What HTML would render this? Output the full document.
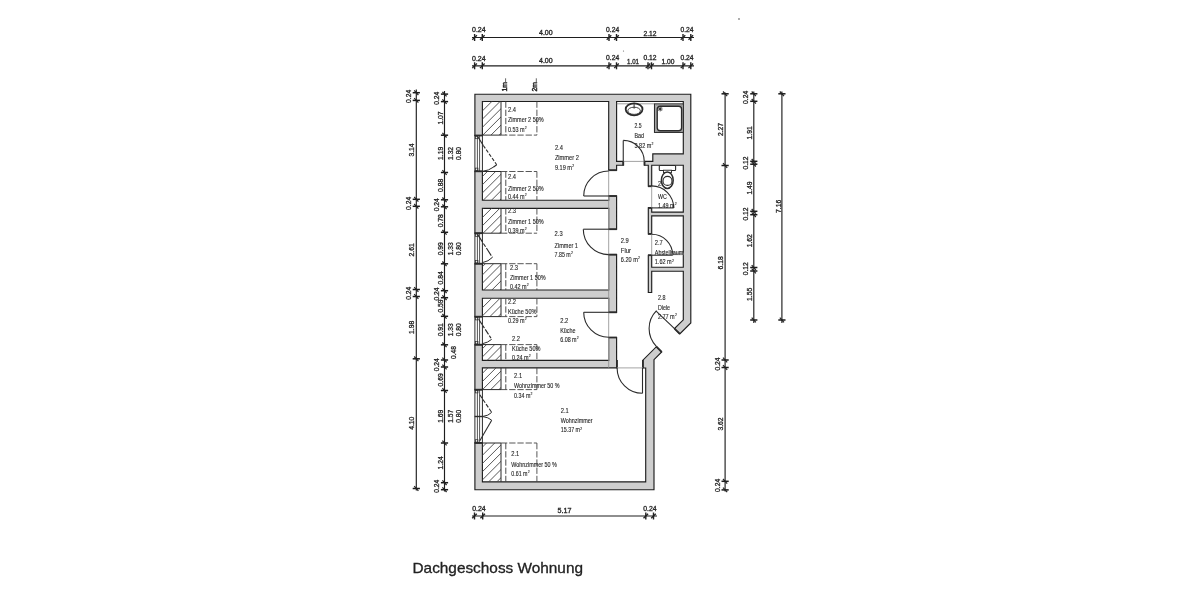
<!DOCTYPE html>
<html><head><meta charset="utf-8"><style>
html,body{margin:0;padding:0;background:#fff;width:1200px;height:600px;overflow:hidden}
svg{display:block;filter:blur(0.35px)}
text{font-family:"Liberation Sans",sans-serif}
</style></head><body>
<svg width="1200" height="600" viewBox="0 0 1200 600">
<rect width="1200" height="600" fill="#fff"/>
<path d="M474.9 94.2L474.9 101.5L474.9 135.5L482.4 135.5L482.4 101.5L608.7 101.5L608.7 170.2L616.6 170.2L616.6 165.2L623.25 165.2L623.25 161.4L616.6 161.4L616.6 101.5L683.3 101.5L683.3 153.9L652.8 153.9L652.8 161.4L651.7 161.4L648.3 161.4L644.5 161.4L644.5 165.2L648.3 165.2L648.3 186.25L651.7 186.25L651.7 165.2L652.8 165.2L683.3 165.2L683.3 212.1L651.7 212.1L651.7 207.9L648.3 207.9L648.3 233.9L651.7 233.9L651.7 215.8L683.3 215.8L683.3 267.2L651.7 267.2L651.7 255.2L648.3 255.2L648.3 292.5L651.7 292.5L651.7 271.2L683.3 271.2L683.3 319.8L674.5 328.6L679.8 333.9L690.8 322.9L690.8 101.5L690.8 94.2L683.3 94.2L616.6 94.2L608.7 94.2L482.4 94.2ZM608.7 208.3L608.7 229.2L616.6 229.2L616.6 208.3L616.6 200.2L616.6 196L608.7 196L608.7 200.2L482.4 200.2L482.4 171.3L474.9 171.3L474.9 233.2L482.4 233.2L482.4 208.3ZM616.6 290L616.6 254.6L608.7 254.6L608.7 290L482.4 290L482.4 263.7L474.9 263.7L474.9 316.7L482.4 316.7L482.4 298.2L608.7 298.2L608.7 312.3L616.6 312.3L616.6 298.2ZM616.6 337.5L608.7 337.5L608.7 360.4L482.4 360.4L482.4 344.7L474.9 344.7L474.9 389.7L482.4 389.7L482.4 367.9L608.7 367.9L616.6 367.9L616.6 360.4ZM474.9 442.9L474.9 481.8L474.9 489.7L482.4 489.7L645.7 489.7L654 489.7L654 481.8L654 368L654 367.9L654 359.7L661.7 352L656.4 346.7L642.9 360.2L642.9 368L645.7 368L645.7 481.8L482.4 481.8L482.4 442.9Z" stroke="#1e1e1e" stroke-width="1.15" fill="#cecece" fill-rule="evenodd" stroke-linejoin="miter"/>
<line x1="608.7" y1="196.6" x2="608.7" y2="199.6" stroke="#bdbdbd" stroke-width="1.4"/>
<line x1="608.7" y1="196" x2="608.7" y2="200.2" stroke="#888" stroke-width="0.8"/>
<line x1="608.7" y1="208.9" x2="608.7" y2="228.6" stroke="#bdbdbd" stroke-width="1.4"/>
<line x1="608.7" y1="208.3" x2="608.7" y2="229.2" stroke="#888" stroke-width="0.8"/>
<line x1="608.7" y1="255.2" x2="608.7" y2="289.4" stroke="#bdbdbd" stroke-width="1.4"/>
<line x1="608.7" y1="254.6" x2="608.7" y2="290" stroke="#888" stroke-width="0.8"/>
<line x1="608.7" y1="298.8" x2="608.7" y2="311.7" stroke="#bdbdbd" stroke-width="1.4"/>
<line x1="608.7" y1="298.2" x2="608.7" y2="312.3" stroke="#888" stroke-width="0.8"/>
<line x1="608.7" y1="338.1" x2="608.7" y2="359.8" stroke="#bdbdbd" stroke-width="1.4"/>
<line x1="608.7" y1="337.5" x2="608.7" y2="360.4" stroke="#888" stroke-width="0.8"/>
<line x1="608.4" y1="170.2" x2="616.9" y2="170.2" stroke="#2b2b2b" stroke-width="1.8"/>
<line x1="608.4" y1="196" x2="616.9" y2="196" stroke="#2b2b2b" stroke-width="1.8"/>
<line x1="608.4" y1="229.2" x2="616.9" y2="229.2" stroke="#2b2b2b" stroke-width="1.8"/>
<line x1="608.4" y1="254.6" x2="616.9" y2="254.6" stroke="#2b2b2b" stroke-width="1.8"/>
<line x1="608.4" y1="312.3" x2="616.9" y2="312.3" stroke="#2b2b2b" stroke-width="1.8"/>
<line x1="608.4" y1="337.5" x2="616.9" y2="337.5" stroke="#2b2b2b" stroke-width="1.8"/>
<line x1="623.25" y1="161" x2="623.25" y2="165.6" stroke="#2b2b2b" stroke-width="1.8"/>
<line x1="644.5" y1="161" x2="644.5" y2="165.6" stroke="#2b2b2b" stroke-width="1.8"/>
<line x1="648" y1="186.25" x2="652" y2="186.25" stroke="#2b2b2b" stroke-width="1.8"/>
<line x1="648" y1="207.9" x2="652" y2="207.9" stroke="#2b2b2b" stroke-width="1.8"/>
<line x1="648" y1="233.9" x2="652" y2="233.9" stroke="#2b2b2b" stroke-width="1.8"/>
<line x1="648" y1="255.2" x2="652" y2="255.2" stroke="#2b2b2b" stroke-width="1.8"/>
<line x1="617" y1="360" x2="617" y2="368.2" stroke="#2b2b2b" stroke-width="1.8"/>
<line x1="642.9" y1="360" x2="642.9" y2="368.2" stroke="#2b2b2b" stroke-width="1.8"/>
<line x1="674.5" y1="328.6" x2="679.8" y2="333.9" stroke="#2b2b2b" stroke-width="1.8"/>
<line x1="656.4" y1="346.7" x2="661.7" y2="352" stroke="#2b2b2b" stroke-width="1.8"/>
<line x1="608.7" y1="170.2" x2="608.7" y2="367.9" stroke="#8a8a8a" stroke-width="0.8"/>
<line x1="617" y1="367.9" x2="642.9" y2="367.9" stroke="#9a9a9a" stroke-width="0.9"/>
<line x1="616.6" y1="103.8" x2="654.5" y2="103.8" stroke="#777" stroke-width="0.7"/>
<line x1="651.7" y1="186.25" x2="651.7" y2="207.9" stroke="#8a8a8a" stroke-width="0.8"/>
<line x1="651.7" y1="233.9" x2="651.7" y2="255.2" stroke="#8a8a8a" stroke-width="0.8"/>
<line x1="623.25" y1="161.4" x2="644.5" y2="161.4" stroke="#8a8a8a" stroke-width="0.8"/>
<rect x="474.9" y="135.5" width="7.5" height="35.8" fill="#fff" stroke="#2b2b2b" stroke-width="1"/>
<line x1="477.4" y1="135.5" x2="477.4" y2="171.3" stroke="#2b2b2b" stroke-width="0.8"/>
<line x1="479.6" y1="135.5" x2="479.6" y2="171.3" stroke="#2b2b2b" stroke-width="0.8"/>
<line x1="474.6" y1="135.5" x2="482.7" y2="135.5" stroke="#2b2b2b" stroke-width="1.8"/>
<line x1="474.6" y1="171.3" x2="482.7" y2="171.3" stroke="#2b2b2b" stroke-width="1.8"/>
<rect x="475.6" y="136.3" width="2.4" height="2.4" fill="none" stroke="#2b2b2b" stroke-width="0.7"/>
<rect x="475.6" y="168.1" width="2.4" height="2.4" fill="none" stroke="#2b2b2b" stroke-width="0.7"/>
<path d="M478 137L483.3 145.5" stroke="#2b2b2b" stroke-width="1.1" fill="none"/>
<path d="M483.3 145.5L496.7 164.7" stroke="#2b2b2b" stroke-width="1.1" fill="none" stroke-dasharray="3.5 1.6"/>
<path d="M496.7 164.7L493.3 167.2" stroke="#2b2b2b" stroke-width="1.1" fill="none"/>
<path d="M493.3 167.2Q489 170.6 482.5 171.3" stroke="#2b2b2b" stroke-width="1" fill="none"/>
<rect x="474.9" y="233.2" width="7.5" height="30.5" fill="#fff" stroke="#2b2b2b" stroke-width="1"/>
<line x1="477.4" y1="233.2" x2="477.4" y2="263.7" stroke="#2b2b2b" stroke-width="0.8"/>
<line x1="479.6" y1="233.2" x2="479.6" y2="263.7" stroke="#2b2b2b" stroke-width="0.8"/>
<line x1="474.6" y1="233.2" x2="482.7" y2="233.2" stroke="#2b2b2b" stroke-width="1.8"/>
<line x1="474.6" y1="263.7" x2="482.7" y2="263.7" stroke="#2b2b2b" stroke-width="1.8"/>
<rect x="475.6" y="234" width="2.4" height="2.4" fill="none" stroke="#2b2b2b" stroke-width="0.7"/>
<rect x="475.6" y="260.5" width="2.4" height="2.4" fill="none" stroke="#2b2b2b" stroke-width="0.7"/>
<path d="M477.7 234.6L492.4 257.4" stroke="#2b2b2b" stroke-width="1.1" fill="none" stroke-dasharray="9 1.5 4 1.5"/>
<path d="M492.4 257.4Q488.5 261.5 482.5 262.6" stroke="#2b2b2b" stroke-width="1" fill="none"/>
<rect x="474.9" y="316.7" width="7.5" height="28" fill="#fff" stroke="#2b2b2b" stroke-width="1"/>
<line x1="477.4" y1="316.7" x2="477.4" y2="344.7" stroke="#2b2b2b" stroke-width="0.8"/>
<line x1="479.6" y1="316.7" x2="479.6" y2="344.7" stroke="#2b2b2b" stroke-width="0.8"/>
<line x1="474.6" y1="316.7" x2="482.7" y2="316.7" stroke="#2b2b2b" stroke-width="1.8"/>
<line x1="474.6" y1="344.7" x2="482.7" y2="344.7" stroke="#2b2b2b" stroke-width="1.8"/>
<rect x="475.6" y="317.5" width="2.4" height="2.4" fill="none" stroke="#2b2b2b" stroke-width="0.7"/>
<rect x="475.6" y="341.5" width="2.4" height="2.4" fill="none" stroke="#2b2b2b" stroke-width="0.7"/>
<path d="M478.7 319.3L491.7 339.3" stroke="#2b2b2b" stroke-width="1.1" fill="none" stroke-dasharray="6 1.5 3 1.5"/>
<path d="M491.7 339.3Q488 342.6 482.5 343.7" stroke="#2b2b2b" stroke-width="1" fill="none"/>
<rect x="474.9" y="389.7" width="7.5" height="53.2" fill="#fff" stroke="#2b2b2b" stroke-width="1"/>
<line x1="477.4" y1="389.7" x2="477.4" y2="442.9" stroke="#2b2b2b" stroke-width="0.8"/>
<line x1="479.6" y1="389.7" x2="479.6" y2="442.9" stroke="#2b2b2b" stroke-width="0.8"/>
<line x1="474.6" y1="389.7" x2="482.7" y2="389.7" stroke="#2b2b2b" stroke-width="1.8"/>
<line x1="474.6" y1="442.9" x2="482.7" y2="442.9" stroke="#2b2b2b" stroke-width="1.8"/>
<rect x="475.6" y="390.5" width="2.4" height="2.4" fill="none" stroke="#2b2b2b" stroke-width="0.7"/>
<rect x="475.6" y="439.7" width="2.4" height="2.4" fill="none" stroke="#2b2b2b" stroke-width="0.7"/>
<line x1="474.6" y1="416.5" x2="482.7" y2="416.5" stroke="#2b2b2b" stroke-width="1.4"/>
<path d="M479.8 394.8L491.7 412.4" stroke="#2b2b2b" stroke-width="1.1" fill="none" stroke-dasharray="4 1.6"/>
<path d="M491.7 412.4Q488.5 415.8 482.5 416.5" stroke="#2b2b2b" stroke-width="1" fill="none"/>
<path d="M482.5 416.5Q488.5 417.3 491.7 420.2" stroke="#2b2b2b" stroke-width="1" fill="none"/>
<path d="M491.7 420.2L479.8 440.8" stroke="#2b2b2b" stroke-width="1.1" fill="none"/>
<line x1="608.7" y1="196" x2="583.7" y2="196" stroke="#2b2b2b" stroke-width="1.1"/>
<path d="M583.7 196A25 25 0 0 1 608.7 171" stroke="#2b2b2b" stroke-width="1.1" fill="none"/>
<line x1="608.7" y1="229.2" x2="583.3" y2="229.2" stroke="#2b2b2b" stroke-width="1.1"/>
<path d="M608.7 254.6A25.4 25.4 0 0 1 583.3 229.2" stroke="#2b2b2b" stroke-width="1.1" fill="none"/>
<line x1="608.7" y1="312.3" x2="583.7" y2="312.3" stroke="#2b2b2b" stroke-width="1.1"/>
<path d="M608.7 337.3A25 25 0 0 1 583.7 312.3" stroke="#2b2b2b" stroke-width="1.1" fill="none"/>
<line x1="623.25" y1="161.4" x2="623.25" y2="140.4" stroke="#2b2b2b" stroke-width="1.1"/>
<path d="M623.25 140.4A21 21 0 0 1 644.25 161.4" stroke="#2b2b2b" stroke-width="1.1" fill="none"/>
<line x1="651.7" y1="207.9" x2="673.7" y2="207.9" stroke="#2b2b2b" stroke-width="1.1"/>
<path d="M651.7 185.9A22 22 0 0 1 673.7 207.9" stroke="#2b2b2b" stroke-width="1.1" fill="none"/>
<line x1="651.7" y1="255.2" x2="672.7" y2="255.2" stroke="#2b2b2b" stroke-width="1.1"/>
<path d="M651.7 234.2A21 21 0 0 1 672.7 255.2" stroke="#2b2b2b" stroke-width="1.1" fill="none"/>
<line x1="674.5" y1="328.6" x2="656.14" y2="311.05" stroke="#2b2b2b" stroke-width="1.1"/>
<path d="M656.54 346.56A25.4 25.4 0 0 1 656.54 310.64" stroke="#2b2b2b" stroke-width="1.1" fill="none"/>
<line x1="642.5" y1="367.9" x2="642.5" y2="393.3" stroke="#2b2b2b" stroke-width="1.1"/>
<path d="M642.5 393.3A25.4 25.4 0 0 1 617.1 367.9" stroke="#2b2b2b" stroke-width="1.1" fill="none"/>
<rect x="672.7" y="252.6" width="10.6" height="2.6" fill="#bdbdbd"/>
<defs>
<clipPath id="hc0"><rect x="482.4" y="101.5" width="18.6" height="33.6"/></clipPath>
<clipPath id="hc1"><rect x="482.4" y="171.5" width="18.6" height="28.7"/></clipPath>
<clipPath id="hc2"><rect x="482.4" y="208.3" width="18.6" height="24.9"/></clipPath>
<clipPath id="hc3"><rect x="482.4" y="263.7" width="18.6" height="26.3"/></clipPath>
<clipPath id="hc4"><rect x="482.4" y="298.2" width="18.6" height="18.4"/></clipPath>
<clipPath id="hc5"><rect x="482.4" y="344.6" width="18.6" height="15.8"/></clipPath>
<clipPath id="hc6"><rect x="482.4" y="367.9" width="18.6" height="21.7"/></clipPath>
<clipPath id="hc7"><rect x="482.4" y="443" width="18.6" height="38.8"/></clipPath>
</defs>
<path clip-path="url(#hc0)" d="M448 137.1L485.6 99.5M456.2 137.1L493.8 99.5M464.4 137.1L502 99.5M472.6 137.1L510.2 99.5M480.8 137.1L518.4 99.5M489 137.1L526.6 99.5M497.2 137.1L534.8 99.5" stroke="#444" stroke-width="0.9" fill="none"/>
<line x1="501" y1="101.5" x2="501" y2="135.1" stroke="#2b2b2b" stroke-width="1"/>
<line x1="482.4" y1="135.1" x2="501" y2="135.1" stroke="#2b2b2b" stroke-width="1"/>
<path d="M505.8 101.5L505.8 135.1" stroke="#444" stroke-width="0.95" fill="none" stroke-dasharray="6.3 1.9"/>
<path d="M501 135.1L536.9 135.1" stroke="#444" stroke-width="0.9" fill="none" stroke-dasharray="6.3 1.9"/>
<path d="M536.9 101.5L536.9 135.1" stroke="#444" stroke-width="0.9" fill="none" stroke-dasharray="6.3 1.9"/>
<path clip-path="url(#hc1)" d="M456.7 202.2L489.4 169.5M464.9 202.2L497.6 169.5M473.1 202.2L505.8 169.5M481.3 202.2L514 169.5M489.5 202.2L522.2 169.5M497.7 202.2L530.4 169.5" stroke="#444" stroke-width="0.9" fill="none"/>
<line x1="501" y1="171.5" x2="501" y2="200.2" stroke="#2b2b2b" stroke-width="1"/>
<line x1="482.4" y1="171.5" x2="501" y2="171.5" stroke="#2b2b2b" stroke-width="1"/>
<path d="M505.8 171.5L505.8 200.2" stroke="#444" stroke-width="0.95" fill="none" stroke-dasharray="6.3 1.9"/>
<path d="M501 171.5L536.9 171.5" stroke="#444" stroke-width="0.9" fill="none" stroke-dasharray="6.3 1.9"/>
<path d="M536.9 171.5L536.9 200.2" stroke="#444" stroke-width="0.9" fill="none" stroke-dasharray="6.3 1.9"/>
<path clip-path="url(#hc2)" d="M456.5 235.2L485.4 206.3M464.7 235.2L493.6 206.3M472.9 235.2L501.8 206.3M481.1 235.2L510 206.3M489.3 235.2L518.2 206.3M497.5 235.2L526.4 206.3" stroke="#444" stroke-width="0.9" fill="none"/>
<line x1="501" y1="208.3" x2="501" y2="233.2" stroke="#2b2b2b" stroke-width="1"/>
<line x1="482.4" y1="233.2" x2="501" y2="233.2" stroke="#2b2b2b" stroke-width="1"/>
<path d="M505.8 208.3L505.8 233.2" stroke="#444" stroke-width="0.95" fill="none" stroke-dasharray="6.3 1.9"/>
<path d="M501 233.2L536.9 233.2" stroke="#444" stroke-width="0.9" fill="none" stroke-dasharray="6.3 1.9"/>
<path d="M536.9 208.3L536.9 233.2" stroke="#444" stroke-width="0.9" fill="none" stroke-dasharray="6.3 1.9"/>
<path clip-path="url(#hc3)" d="M457.1 292L487.4 261.7M465.3 292L495.6 261.7M473.5 292L503.8 261.7M481.7 292L512 261.7M489.9 292L520.2 261.7M498.1 292L528.4 261.7" stroke="#444" stroke-width="0.9" fill="none"/>
<line x1="501" y1="263.7" x2="501" y2="290" stroke="#2b2b2b" stroke-width="1"/>
<line x1="482.4" y1="263.7" x2="501" y2="263.7" stroke="#2b2b2b" stroke-width="1"/>
<path d="M505.8 263.7L505.8 290" stroke="#444" stroke-width="0.95" fill="none" stroke-dasharray="6.3 1.9"/>
<path d="M501 263.7L536.9 263.7" stroke="#444" stroke-width="0.9" fill="none" stroke-dasharray="6.3 1.9"/>
<path d="M536.9 263.7L536.9 290" stroke="#444" stroke-width="0.9" fill="none" stroke-dasharray="6.3 1.9"/>
<path clip-path="url(#hc4)" d="M463.3 318.6L485.7 296.2M471.5 318.6L493.9 296.2M479.7 318.6L502.1 296.2M487.9 318.6L510.3 296.2M496.1 318.6L518.5 296.2" stroke="#444" stroke-width="0.9" fill="none"/>
<line x1="501" y1="298.2" x2="501" y2="316.6" stroke="#2b2b2b" stroke-width="1"/>
<line x1="482.4" y1="316.6" x2="501" y2="316.6" stroke="#2b2b2b" stroke-width="1"/>
<path d="M505.8 298.2L505.8 316.6" stroke="#444" stroke-width="0.95" fill="none" stroke-dasharray="6.3 1.9"/>
<path d="M501 316.6L536.9 316.6" stroke="#444" stroke-width="0.9" fill="none" stroke-dasharray="6.3 1.9"/>
<path d="M536.9 298.2L536.9 316.6" stroke="#444" stroke-width="0.9" fill="none" stroke-dasharray="6.3 1.9"/>
<path clip-path="url(#hc5)" d="M468.7 362.4L488.5 342.6M476.9 362.4L496.7 342.6M485.1 362.4L504.9 342.6M493.3 362.4L513.1 342.6" stroke="#444" stroke-width="0.9" fill="none"/>
<line x1="501" y1="344.6" x2="501" y2="360.4" stroke="#2b2b2b" stroke-width="1"/>
<line x1="482.4" y1="344.6" x2="501" y2="344.6" stroke="#2b2b2b" stroke-width="1"/>
<path d="M505.8 344.6L505.8 360.4" stroke="#444" stroke-width="0.95" fill="none" stroke-dasharray="6.3 1.9"/>
<path d="M501 344.6L536.9 344.6" stroke="#444" stroke-width="0.9" fill="none" stroke-dasharray="6.3 1.9"/>
<path d="M536.9 344.6L536.9 360.4" stroke="#444" stroke-width="0.9" fill="none" stroke-dasharray="6.3 1.9"/>
<path clip-path="url(#hc6)" d="M464.1 391.6L489.8 365.9M472.3 391.6L498 365.9M480.5 391.6L506.2 365.9M488.7 391.6L514.4 365.9M496.9 391.6L522.6 365.9" stroke="#444" stroke-width="0.9" fill="none"/>
<line x1="501" y1="367.9" x2="501" y2="389.6" stroke="#2b2b2b" stroke-width="1"/>
<line x1="482.4" y1="389.6" x2="501" y2="389.6" stroke="#2b2b2b" stroke-width="1"/>
<path d="M505.8 367.9L505.8 389.6" stroke="#444" stroke-width="0.95" fill="none" stroke-dasharray="6.3 1.9"/>
<path d="M501 389.6L536.9 389.6" stroke="#444" stroke-width="0.9" fill="none" stroke-dasharray="6.3 1.9"/>
<path d="M536.9 367.9L536.9 389.6" stroke="#444" stroke-width="0.9" fill="none" stroke-dasharray="6.3 1.9"/>
<path clip-path="url(#hc7)" d="M445.7 483.8L488.5 441M453.9 483.8L496.7 441M462.1 483.8L504.9 441M470.3 483.8L513.1 441M478.5 483.8L521.3 441M486.7 483.8L529.5 441M494.9 483.8L537.7 441" stroke="#444" stroke-width="0.9" fill="none"/>
<line x1="501" y1="443" x2="501" y2="481.8" stroke="#2b2b2b" stroke-width="1"/>
<line x1="482.4" y1="443" x2="501" y2="443" stroke="#2b2b2b" stroke-width="1"/>
<path d="M505.8 443L505.8 481.8" stroke="#444" stroke-width="0.95" fill="none" stroke-dasharray="6.3 1.9"/>
<path d="M501 443L536.9 443" stroke="#444" stroke-width="0.9" fill="none" stroke-dasharray="6.3 1.9"/>
<path d="M536.9 443L536.9 481.8" stroke="#444" stroke-width="0.9" fill="none" stroke-dasharray="6.3 1.9"/>
<line x1="472" y1="37.5" x2="694" y2="37.5" stroke="#1e1e1e" stroke-width="1.15"/>
<line x1="474.6" y1="34" x2="474.6" y2="41" stroke="#222" stroke-width="1.4"/>
<line x1="472.3" y1="39.8" x2="476.9" y2="35.2" stroke="#222" stroke-width="1.3"/>
<line x1="482.3" y1="34" x2="482.3" y2="41" stroke="#222" stroke-width="1.4"/>
<line x1="480" y1="39.8" x2="484.6" y2="35.2" stroke="#222" stroke-width="1.3"/>
<line x1="609" y1="34" x2="609" y2="41" stroke="#222" stroke-width="1.4"/>
<line x1="606.7" y1="39.8" x2="611.3" y2="35.2" stroke="#222" stroke-width="1.3"/>
<line x1="616.5" y1="34" x2="616.5" y2="41" stroke="#222" stroke-width="1.4"/>
<line x1="614.2" y1="39.8" x2="618.8" y2="35.2" stroke="#222" stroke-width="1.3"/>
<line x1="683" y1="34" x2="683" y2="41" stroke="#222" stroke-width="1.4"/>
<line x1="680.7" y1="39.8" x2="685.3" y2="35.2" stroke="#222" stroke-width="1.3"/>
<line x1="690.8" y1="34" x2="690.8" y2="41" stroke="#222" stroke-width="1.4"/>
<line x1="688.5" y1="39.8" x2="693.1" y2="35.2" stroke="#222" stroke-width="1.3"/>
<line x1="472" y1="65.8" x2="694" y2="65.8" stroke="#1e1e1e" stroke-width="1.15"/>
<line x1="474.6" y1="62.3" x2="474.6" y2="69.3" stroke="#222" stroke-width="1.4"/>
<line x1="472.3" y1="68.1" x2="476.9" y2="63.5" stroke="#222" stroke-width="1.3"/>
<line x1="482.3" y1="62.3" x2="482.3" y2="69.3" stroke="#222" stroke-width="1.4"/>
<line x1="480" y1="68.1" x2="484.6" y2="63.5" stroke="#222" stroke-width="1.3"/>
<line x1="609" y1="62.3" x2="609" y2="69.3" stroke="#222" stroke-width="1.4"/>
<line x1="606.7" y1="68.1" x2="611.3" y2="63.5" stroke="#222" stroke-width="1.3"/>
<line x1="616.5" y1="62.3" x2="616.5" y2="69.3" stroke="#222" stroke-width="1.4"/>
<line x1="614.2" y1="68.1" x2="618.8" y2="63.5" stroke="#222" stroke-width="1.3"/>
<line x1="648" y1="62.3" x2="648" y2="69.3" stroke="#222" stroke-width="1.4"/>
<line x1="645.7" y1="68.1" x2="650.3" y2="63.5" stroke="#222" stroke-width="1.3"/>
<line x1="651.5" y1="62.3" x2="651.5" y2="69.3" stroke="#222" stroke-width="1.4"/>
<line x1="649.2" y1="68.1" x2="653.8" y2="63.5" stroke="#222" stroke-width="1.3"/>
<line x1="683" y1="62.3" x2="683" y2="69.3" stroke="#222" stroke-width="1.4"/>
<line x1="680.7" y1="68.1" x2="685.3" y2="63.5" stroke="#222" stroke-width="1.3"/>
<line x1="690.8" y1="62.3" x2="690.8" y2="69.3" stroke="#222" stroke-width="1.4"/>
<line x1="688.5" y1="68.1" x2="693.1" y2="63.5" stroke="#222" stroke-width="1.3"/>
<text x="472" y="32.3" font-size="6.4" fill="#262626" textLength="13.6" lengthAdjust="spacingAndGlyphs" stroke="#262626" stroke-width="0.3">0.24</text>
<text x="539" y="35.3" font-size="6.4" fill="#262626" textLength="13.7" lengthAdjust="spacingAndGlyphs" stroke="#262626" stroke-width="0.3">4.00</text>
<text x="606" y="32.2" font-size="6.4" fill="#262626" textLength="13.2" lengthAdjust="spacingAndGlyphs" stroke="#262626" stroke-width="0.3">0.24</text>
<text x="643.5" y="35.5" font-size="6.4" fill="#262626" textLength="13" lengthAdjust="spacingAndGlyphs" stroke="#262626" stroke-width="0.3">2.12</text>
<text x="680.5" y="32.2" font-size="6.4" fill="#262626" textLength="13" lengthAdjust="spacingAndGlyphs" stroke="#262626" stroke-width="0.3">0.24</text>
<text x="472" y="60.5" font-size="6.4" fill="#262626" textLength="13.6" lengthAdjust="spacingAndGlyphs" stroke="#262626" stroke-width="0.3">0.24</text>
<text x="539" y="63.3" font-size="6.4" fill="#262626" textLength="13.7" lengthAdjust="spacingAndGlyphs" stroke="#262626" stroke-width="0.3">4.00</text>
<text x="606" y="60.2" font-size="6.4" fill="#262626" textLength="13.2" lengthAdjust="spacingAndGlyphs" stroke="#262626" stroke-width="0.3">0.24</text>
<text x="627" y="63.5" font-size="6.4" fill="#262626" textLength="12" lengthAdjust="spacingAndGlyphs" stroke="#262626" stroke-width="0.3">1.01</text>
<text x="643.5" y="60.2" font-size="6.4" fill="#262626" textLength="13" lengthAdjust="spacingAndGlyphs" stroke="#262626" stroke-width="0.3">0.12</text>
<text x="661.5" y="63.5" font-size="6.4" fill="#262626" textLength="13" lengthAdjust="spacingAndGlyphs" stroke="#262626" stroke-width="0.3">1.00</text>
<text x="680.5" y="60.2" font-size="6.4" fill="#262626" textLength="13" lengthAdjust="spacingAndGlyphs" stroke="#262626" stroke-width="0.3">0.24</text>
<line x1="472" y1="516" x2="657" y2="516" stroke="#1e1e1e" stroke-width="1.15"/>
<line x1="474.5" y1="512.5" x2="474.5" y2="519.5" stroke="#222" stroke-width="1.4"/>
<line x1="472.2" y1="518.3" x2="476.8" y2="513.7" stroke="#222" stroke-width="1.3"/>
<line x1="482.7" y1="512.5" x2="482.7" y2="519.5" stroke="#222" stroke-width="1.4"/>
<line x1="480.4" y1="518.3" x2="485" y2="513.7" stroke="#222" stroke-width="1.3"/>
<line x1="645.8" y1="512.5" x2="645.8" y2="519.5" stroke="#222" stroke-width="1.4"/>
<line x1="643.5" y1="518.3" x2="648.1" y2="513.7" stroke="#222" stroke-width="1.3"/>
<line x1="653.5" y1="512.5" x2="653.5" y2="519.5" stroke="#222" stroke-width="1.4"/>
<line x1="651.2" y1="518.3" x2="655.8" y2="513.7" stroke="#222" stroke-width="1.3"/>
<text x="472.2" y="510.6" font-size="6.4" fill="#262626" textLength="13.5" lengthAdjust="spacingAndGlyphs" stroke="#262626" stroke-width="0.3">0.24</text>
<text x="557.5" y="513.3" font-size="6.4" fill="#262626" textLength="14" lengthAdjust="spacingAndGlyphs" stroke="#262626" stroke-width="0.3">5.17</text>
<text x="643.2" y="510.6" font-size="6.4" fill="#262626" textLength="13.3" lengthAdjust="spacingAndGlyphs" stroke="#262626" stroke-width="0.3">0.24</text>
<line x1="416.3" y1="89.5" x2="416.3" y2="490.5" stroke="#1e1e1e" stroke-width="1.15"/>
<line x1="412.7" y1="92.7" x2="419.9" y2="92.7" stroke="#1a1a1a" stroke-width="1.5"/>
<line x1="414.2" y1="90.4" x2="418.4" y2="95" stroke="#222" stroke-width="1.2"/>
<line x1="412.7" y1="100.4" x2="419.9" y2="100.4" stroke="#1a1a1a" stroke-width="1.5"/>
<line x1="414.2" y1="98.1" x2="418.4" y2="102.7" stroke="#222" stroke-width="1.2"/>
<line x1="412.7" y1="199.3" x2="419.9" y2="199.3" stroke="#1a1a1a" stroke-width="1.5"/>
<line x1="414.2" y1="197" x2="418.4" y2="201.6" stroke="#222" stroke-width="1.2"/>
<line x1="412.7" y1="206.3" x2="419.9" y2="206.3" stroke="#1a1a1a" stroke-width="1.5"/>
<line x1="414.2" y1="204" x2="418.4" y2="208.6" stroke="#222" stroke-width="1.2"/>
<line x1="412.7" y1="289.5" x2="419.9" y2="289.5" stroke="#1a1a1a" stroke-width="1.5"/>
<line x1="414.2" y1="287.2" x2="418.4" y2="291.8" stroke="#222" stroke-width="1.2"/>
<line x1="412.7" y1="296.5" x2="419.9" y2="296.5" stroke="#1a1a1a" stroke-width="1.5"/>
<line x1="414.2" y1="294.2" x2="418.4" y2="298.8" stroke="#222" stroke-width="1.2"/>
<line x1="412.7" y1="358.8" x2="419.9" y2="358.8" stroke="#1a1a1a" stroke-width="1.5"/>
<line x1="414.2" y1="356.5" x2="418.4" y2="361.1" stroke="#222" stroke-width="1.2"/>
<line x1="412.7" y1="488.5" x2="419.9" y2="488.5" stroke="#1a1a1a" stroke-width="1.5"/>
<line x1="414.2" y1="486.2" x2="418.4" y2="490.8" stroke="#222" stroke-width="1.2"/>
<line x1="444.5" y1="91" x2="444.5" y2="491.5" stroke="#1e1e1e" stroke-width="1.15"/>
<line x1="440.9" y1="94.1" x2="448.1" y2="94.1" stroke="#1a1a1a" stroke-width="1.5"/>
<line x1="442.4" y1="91.8" x2="446.6" y2="96.4" stroke="#222" stroke-width="1.2"/>
<line x1="440.9" y1="101.6" x2="448.1" y2="101.6" stroke="#1a1a1a" stroke-width="1.5"/>
<line x1="442.4" y1="99.3" x2="446.6" y2="103.9" stroke="#222" stroke-width="1.2"/>
<line x1="440.9" y1="135.2" x2="448.1" y2="135.2" stroke="#1a1a1a" stroke-width="1.5"/>
<line x1="442.4" y1="132.9" x2="446.6" y2="137.5" stroke="#222" stroke-width="1.2"/>
<line x1="440.9" y1="172.5" x2="448.1" y2="172.5" stroke="#1a1a1a" stroke-width="1.5"/>
<line x1="442.4" y1="170.2" x2="446.6" y2="174.8" stroke="#222" stroke-width="1.2"/>
<line x1="440.9" y1="199.8" x2="448.1" y2="199.8" stroke="#1a1a1a" stroke-width="1.5"/>
<line x1="442.4" y1="197.5" x2="446.6" y2="202.1" stroke="#222" stroke-width="1.2"/>
<line x1="440.9" y1="206.8" x2="448.1" y2="206.8" stroke="#1a1a1a" stroke-width="1.5"/>
<line x1="442.4" y1="204.5" x2="446.6" y2="209.1" stroke="#222" stroke-width="1.2"/>
<line x1="440.9" y1="232.3" x2="448.1" y2="232.3" stroke="#1a1a1a" stroke-width="1.5"/>
<line x1="442.4" y1="230" x2="446.6" y2="234.6" stroke="#222" stroke-width="1.2"/>
<line x1="440.9" y1="263.8" x2="448.1" y2="263.8" stroke="#1a1a1a" stroke-width="1.5"/>
<line x1="442.4" y1="261.5" x2="446.6" y2="266.1" stroke="#222" stroke-width="1.2"/>
<line x1="440.9" y1="290.7" x2="448.1" y2="290.7" stroke="#1a1a1a" stroke-width="1.5"/>
<line x1="442.4" y1="288.4" x2="446.6" y2="293" stroke="#222" stroke-width="1.2"/>
<line x1="440.9" y1="297.7" x2="448.1" y2="297.7" stroke="#1a1a1a" stroke-width="1.5"/>
<line x1="442.4" y1="295.4" x2="446.6" y2="300" stroke="#222" stroke-width="1.2"/>
<line x1="440.9" y1="316.3" x2="448.1" y2="316.3" stroke="#1a1a1a" stroke-width="1.5"/>
<line x1="442.4" y1="314" x2="446.6" y2="318.6" stroke="#222" stroke-width="1.2"/>
<line x1="440.9" y1="344.8" x2="448.1" y2="344.8" stroke="#1a1a1a" stroke-width="1.5"/>
<line x1="442.4" y1="342.5" x2="446.6" y2="347.1" stroke="#222" stroke-width="1.2"/>
<line x1="440.9" y1="360" x2="448.1" y2="360" stroke="#1a1a1a" stroke-width="1.5"/>
<line x1="442.4" y1="357.7" x2="446.6" y2="362.3" stroke="#222" stroke-width="1.2"/>
<line x1="440.9" y1="367" x2="448.1" y2="367" stroke="#1a1a1a" stroke-width="1.5"/>
<line x1="442.4" y1="364.7" x2="446.6" y2="369.3" stroke="#222" stroke-width="1.2"/>
<line x1="440.9" y1="390.5" x2="448.1" y2="390.5" stroke="#1a1a1a" stroke-width="1.5"/>
<line x1="442.4" y1="388.2" x2="446.6" y2="392.8" stroke="#222" stroke-width="1.2"/>
<line x1="440.9" y1="443" x2="448.1" y2="443" stroke="#1a1a1a" stroke-width="1.5"/>
<line x1="442.4" y1="440.7" x2="446.6" y2="445.3" stroke="#222" stroke-width="1.2"/>
<line x1="440.9" y1="482.7" x2="448.1" y2="482.7" stroke="#1a1a1a" stroke-width="1.5"/>
<line x1="442.4" y1="480.4" x2="446.6" y2="485" stroke="#222" stroke-width="1.2"/>
<line x1="440.9" y1="489.7" x2="448.1" y2="489.7" stroke="#1a1a1a" stroke-width="1.5"/>
<line x1="442.4" y1="487.4" x2="446.6" y2="492" stroke="#222" stroke-width="1.2"/>
<text transform="translate(411.2 103) rotate(-90)" font-size="6.4" fill="#262626" textLength="13.2" lengthAdjust="spacingAndGlyphs" stroke="#262626" stroke-width="0.3">0.24</text>
<text transform="translate(414.3 156.6) rotate(-90)" font-size="6.4" fill="#262626" textLength="13.2" lengthAdjust="spacingAndGlyphs" stroke="#262626" stroke-width="0.3">3.14</text>
<text transform="translate(411.2 209.9) rotate(-90)" font-size="6.4" fill="#262626" textLength="13.2" lengthAdjust="spacingAndGlyphs" stroke="#262626" stroke-width="0.3">0.24</text>
<text transform="translate(414.3 256.4) rotate(-90)" font-size="6.4" fill="#262626" textLength="13.2" lengthAdjust="spacingAndGlyphs" stroke="#262626" stroke-width="0.3">2.61</text>
<text transform="translate(411.2 299.8) rotate(-90)" font-size="6.4" fill="#262626" textLength="13.2" lengthAdjust="spacingAndGlyphs" stroke="#262626" stroke-width="0.3">0.24</text>
<text transform="translate(414.3 333.9) rotate(-90)" font-size="6.4" fill="#262626" textLength="13.2" lengthAdjust="spacingAndGlyphs" stroke="#262626" stroke-width="0.3">1.98</text>
<text transform="translate(414.3 429.8) rotate(-90)" font-size="6.4" fill="#262626" textLength="13.2" lengthAdjust="spacingAndGlyphs" stroke="#262626" stroke-width="0.3">4.10</text>
<text transform="translate(439.3 104.8) rotate(-90)" font-size="6.4" fill="#262626" textLength="13.2" lengthAdjust="spacingAndGlyphs" stroke="#262626" stroke-width="0.3">0.24</text>
<text transform="translate(442.6 124.6) rotate(-90)" font-size="6.4" fill="#262626" textLength="13.2" lengthAdjust="spacingAndGlyphs" stroke="#262626" stroke-width="0.3">1.07</text>
<text transform="translate(442.6 160) rotate(-90)" font-size="6.4" fill="#262626" textLength="13.2" lengthAdjust="spacingAndGlyphs" stroke="#262626" stroke-width="0.3">1.19</text>
<text transform="translate(442.6 191.9) rotate(-90)" font-size="6.4" fill="#262626" textLength="13.2" lengthAdjust="spacingAndGlyphs" stroke="#262626" stroke-width="0.3">0.88</text>
<text transform="translate(439.3 211.3) rotate(-90)" font-size="6.4" fill="#262626" textLength="13.2" lengthAdjust="spacingAndGlyphs" stroke="#262626" stroke-width="0.3">0.24</text>
<text transform="translate(442.6 227.3) rotate(-90)" font-size="6.4" fill="#262626" textLength="13.2" lengthAdjust="spacingAndGlyphs" stroke="#262626" stroke-width="0.3">0.78</text>
<text transform="translate(442.6 255.3) rotate(-90)" font-size="6.4" fill="#262626" textLength="13.2" lengthAdjust="spacingAndGlyphs" stroke="#262626" stroke-width="0.3">0.99</text>
<text transform="translate(442.6 284.4) rotate(-90)" font-size="6.4" fill="#262626" textLength="13.2" lengthAdjust="spacingAndGlyphs" stroke="#262626" stroke-width="0.3">0.84</text>
<text transform="translate(439.3 300.6) rotate(-90)" font-size="6.4" fill="#262626" textLength="13.2" lengthAdjust="spacingAndGlyphs" stroke="#262626" stroke-width="0.3">0.24</text>
<text transform="translate(442.6 312.6) rotate(-90)" font-size="6.4" fill="#262626" textLength="13.2" lengthAdjust="spacingAndGlyphs" stroke="#262626" stroke-width="0.3">0.59</text>
<text transform="translate(442.6 336.3) rotate(-90)" font-size="6.4" fill="#262626" textLength="13.2" lengthAdjust="spacingAndGlyphs" stroke="#262626" stroke-width="0.3">0.91</text>
<text transform="translate(439.3 371.3) rotate(-90)" font-size="6.4" fill="#262626" textLength="13.2" lengthAdjust="spacingAndGlyphs" stroke="#262626" stroke-width="0.3">0.24</text>
<text transform="translate(442.6 386.4) rotate(-90)" font-size="6.4" fill="#262626" textLength="13.2" lengthAdjust="spacingAndGlyphs" stroke="#262626" stroke-width="0.3">0.69</text>
<text transform="translate(442.6 422.8) rotate(-90)" font-size="6.4" fill="#262626" textLength="13.2" lengthAdjust="spacingAndGlyphs" stroke="#262626" stroke-width="0.3">1.69</text>
<text transform="translate(442.6 469.4) rotate(-90)" font-size="6.4" fill="#262626" textLength="13.2" lengthAdjust="spacingAndGlyphs" stroke="#262626" stroke-width="0.3">1.24</text>
<text transform="translate(439.3 492.8) rotate(-90)" font-size="6.4" fill="#262626" textLength="13.2" lengthAdjust="spacingAndGlyphs" stroke="#262626" stroke-width="0.3">0.24</text>
<text transform="translate(452.8 159.9) rotate(-90)" font-size="6.4" fill="#262626" textLength="13" lengthAdjust="spacingAndGlyphs" stroke="#262626" stroke-width="0.3">1.32</text>
<text transform="translate(452.8 255.2) rotate(-90)" font-size="6.4" fill="#262626" textLength="13" lengthAdjust="spacingAndGlyphs" stroke="#262626" stroke-width="0.3">1.33</text>
<text transform="translate(452.8 336.2) rotate(-90)" font-size="6.4" fill="#262626" textLength="13" lengthAdjust="spacingAndGlyphs" stroke="#262626" stroke-width="0.3">1.33</text>
<text transform="translate(456 359) rotate(-90)" font-size="6.4" fill="#262626" textLength="13" lengthAdjust="spacingAndGlyphs" stroke="#262626" stroke-width="0.3">0.48</text>
<text transform="translate(452.8 422.7) rotate(-90)" font-size="6.4" fill="#262626" textLength="13" lengthAdjust="spacingAndGlyphs" stroke="#262626" stroke-width="0.3">1.57</text>
<text transform="translate(461 159.9) rotate(-90)" font-size="6.4" fill="#262626" textLength="13" lengthAdjust="spacingAndGlyphs" stroke="#262626" stroke-width="0.3">0.80</text>
<text transform="translate(461 255.2) rotate(-90)" font-size="6.4" fill="#262626" textLength="13" lengthAdjust="spacingAndGlyphs" stroke="#262626" stroke-width="0.3">0.80</text>
<text transform="translate(461 336.2) rotate(-90)" font-size="6.4" fill="#262626" textLength="13" lengthAdjust="spacingAndGlyphs" stroke="#262626" stroke-width="0.3">0.80</text>
<text transform="translate(461 422.7) rotate(-90)" font-size="6.4" fill="#262626" textLength="13" lengthAdjust="spacingAndGlyphs" stroke="#262626" stroke-width="0.3">0.80</text>
<line x1="725.1" y1="92.5" x2="725.1" y2="491.5" stroke="#1e1e1e" stroke-width="1.15"/>
<line x1="721.5" y1="93.8" x2="728.7" y2="93.8" stroke="#1a1a1a" stroke-width="1.5"/>
<line x1="723" y1="91.5" x2="727.2" y2="96.1" stroke="#222" stroke-width="1.2"/>
<line x1="721.5" y1="165.5" x2="728.7" y2="165.5" stroke="#1a1a1a" stroke-width="1.5"/>
<line x1="723" y1="163.2" x2="727.2" y2="167.8" stroke="#222" stroke-width="1.2"/>
<line x1="721.5" y1="360" x2="728.7" y2="360" stroke="#1a1a1a" stroke-width="1.5"/>
<line x1="723" y1="357.7" x2="727.2" y2="362.3" stroke="#222" stroke-width="1.2"/>
<line x1="721.5" y1="367.5" x2="728.7" y2="367.5" stroke="#1a1a1a" stroke-width="1.5"/>
<line x1="723" y1="365.2" x2="727.2" y2="369.8" stroke="#222" stroke-width="1.2"/>
<line x1="721.5" y1="481.3" x2="728.7" y2="481.3" stroke="#1a1a1a" stroke-width="1.5"/>
<line x1="723" y1="479" x2="727.2" y2="483.6" stroke="#222" stroke-width="1.2"/>
<line x1="721.5" y1="489.9" x2="728.7" y2="489.9" stroke="#1a1a1a" stroke-width="1.5"/>
<line x1="723" y1="487.6" x2="727.2" y2="492.2" stroke="#222" stroke-width="1.2"/>
<line x1="753.8" y1="91.5" x2="753.8" y2="323" stroke="#1e1e1e" stroke-width="1.15"/>
<line x1="750.2" y1="93.8" x2="757.4" y2="93.8" stroke="#1a1a1a" stroke-width="1.5"/>
<line x1="751.7" y1="91.5" x2="755.9" y2="96.1" stroke="#222" stroke-width="1.2"/>
<line x1="750.2" y1="101.3" x2="757.4" y2="101.3" stroke="#1a1a1a" stroke-width="1.5"/>
<line x1="751.7" y1="99" x2="755.9" y2="103.6" stroke="#222" stroke-width="1.2"/>
<line x1="750.2" y1="161.3" x2="757.4" y2="161.3" stroke="#1a1a1a" stroke-width="1.5"/>
<line x1="751.7" y1="159" x2="755.9" y2="163.6" stroke="#222" stroke-width="1.2"/>
<line x1="750.2" y1="164.2" x2="757.4" y2="164.2" stroke="#1a1a1a" stroke-width="1.5"/>
<line x1="751.7" y1="161.9" x2="755.9" y2="166.5" stroke="#222" stroke-width="1.2"/>
<line x1="750.2" y1="211.3" x2="757.4" y2="211.3" stroke="#1a1a1a" stroke-width="1.5"/>
<line x1="751.7" y1="209" x2="755.9" y2="213.6" stroke="#222" stroke-width="1.2"/>
<line x1="750.2" y1="214.7" x2="757.4" y2="214.7" stroke="#1a1a1a" stroke-width="1.5"/>
<line x1="751.7" y1="212.4" x2="755.9" y2="217" stroke="#222" stroke-width="1.2"/>
<line x1="750.2" y1="267.5" x2="757.4" y2="267.5" stroke="#1a1a1a" stroke-width="1.5"/>
<line x1="751.7" y1="265.2" x2="755.9" y2="269.8" stroke="#222" stroke-width="1.2"/>
<line x1="750.2" y1="271" x2="757.4" y2="271" stroke="#1a1a1a" stroke-width="1.5"/>
<line x1="751.7" y1="268.7" x2="755.9" y2="273.3" stroke="#222" stroke-width="1.2"/>
<line x1="750.2" y1="320" x2="757.4" y2="320" stroke="#1a1a1a" stroke-width="1.5"/>
<line x1="751.7" y1="317.7" x2="755.9" y2="322.3" stroke="#222" stroke-width="1.2"/>
<line x1="781.9" y1="91.5" x2="781.9" y2="323" stroke="#1e1e1e" stroke-width="1.15"/>
<line x1="778.3" y1="93.8" x2="785.5" y2="93.8" stroke="#1a1a1a" stroke-width="1.5"/>
<line x1="779.8" y1="91.5" x2="784" y2="96.1" stroke="#222" stroke-width="1.2"/>
<line x1="778.3" y1="320" x2="785.5" y2="320" stroke="#1a1a1a" stroke-width="1.5"/>
<line x1="779.8" y1="317.7" x2="784" y2="322.3" stroke="#222" stroke-width="1.2"/>
<text transform="translate(722.9 136.1) rotate(-90)" font-size="6.4" fill="#262626" textLength="13.2" lengthAdjust="spacingAndGlyphs" stroke="#262626" stroke-width="0.3">2.27</text>
<text transform="translate(722.9 269.4) rotate(-90)" font-size="6.4" fill="#262626" textLength="13.2" lengthAdjust="spacingAndGlyphs" stroke="#262626" stroke-width="0.3">6.18</text>
<text transform="translate(720 370.6) rotate(-90)" font-size="6.4" fill="#262626" textLength="13.2" lengthAdjust="spacingAndGlyphs" stroke="#262626" stroke-width="0.3">0.24</text>
<text transform="translate(722.9 430.6) rotate(-90)" font-size="6.4" fill="#262626" textLength="13.2" lengthAdjust="spacingAndGlyphs" stroke="#262626" stroke-width="0.3">3.62</text>
<text transform="translate(720 491.9) rotate(-90)" font-size="6.4" fill="#262626" textLength="13.2" lengthAdjust="spacingAndGlyphs" stroke="#262626" stroke-width="0.3">0.24</text>
<text transform="translate(748.2 103.9) rotate(-90)" font-size="6.4" fill="#262626" textLength="13.2" lengthAdjust="spacingAndGlyphs" stroke="#262626" stroke-width="0.3">0.24</text>
<text transform="translate(752 139.4) rotate(-90)" font-size="6.4" fill="#262626" textLength="13.2" lengthAdjust="spacingAndGlyphs" stroke="#262626" stroke-width="0.3">1.91</text>
<text transform="translate(748.2 169.6) rotate(-90)" font-size="6.4" fill="#262626" textLength="13.2" lengthAdjust="spacingAndGlyphs" stroke="#262626" stroke-width="0.3">0.12</text>
<text transform="translate(752 194.6) rotate(-90)" font-size="6.4" fill="#262626" textLength="13.2" lengthAdjust="spacingAndGlyphs" stroke="#262626" stroke-width="0.3">1.49</text>
<text transform="translate(748.2 220.6) rotate(-90)" font-size="6.4" fill="#262626" textLength="13.2" lengthAdjust="spacingAndGlyphs" stroke="#262626" stroke-width="0.3">0.12</text>
<text transform="translate(752 247.3) rotate(-90)" font-size="6.4" fill="#262626" textLength="13.2" lengthAdjust="spacingAndGlyphs" stroke="#262626" stroke-width="0.3">1.62</text>
<text transform="translate(748.2 275.3) rotate(-90)" font-size="6.4" fill="#262626" textLength="13.2" lengthAdjust="spacingAndGlyphs" stroke="#262626" stroke-width="0.3">0.12</text>
<text transform="translate(752 300.9) rotate(-90)" font-size="6.4" fill="#262626" textLength="13.2" lengthAdjust="spacingAndGlyphs" stroke="#262626" stroke-width="0.3">1.55</text>
<text transform="translate(780.7 212.9) rotate(-90)" font-size="6.4" fill="#262626" textLength="13.2" lengthAdjust="spacingAndGlyphs" stroke="#262626" stroke-width="0.3">7.16</text>
<text transform="translate(506.6 91.6) rotate(-90)" font-size="7.4" fill="#222" stroke="#222" stroke-width="0.45" textLength="9.4" lengthAdjust="spacingAndGlyphs">1m</text>
<line x1="505.6" y1="78.3" x2="505.6" y2="82.2" stroke="#555" stroke-width="0.9"/>
<text transform="translate(537.3 91.6) rotate(-90)" font-size="7.4" fill="#222" stroke="#222" stroke-width="0.45" textLength="9.4" lengthAdjust="spacingAndGlyphs">2m</text>
<line x1="536.3" y1="78.3" x2="536.3" y2="82.2" stroke="#555" stroke-width="0.9"/>
<text x="508" y="111.9" font-size="6.5" fill="#262626" textLength="8" lengthAdjust="spacingAndGlyphs" stroke="#262626" stroke-width="0.12">2.4</text>
<text x="508" y="122.4" font-size="6.5" fill="#262626" textLength="35.6" lengthAdjust="spacingAndGlyphs" stroke="#262626" stroke-width="0.12">Zimmer 2 50%</text>
<text x="508" y="131.75" font-size="6.5" fill="#262626" textLength="16.6" lengthAdjust="spacingAndGlyphs" stroke="#262626" stroke-width="0.12">0.53 m</text>
<text x="524.8" y="129.15" font-size="3.6" fill="#262626" textLength="1.9" lengthAdjust="spacingAndGlyphs" stroke="#262626" stroke-width="0.12">2</text>
<text x="508" y="179.3" font-size="6.5" fill="#262626" textLength="8" lengthAdjust="spacingAndGlyphs" stroke="#262626" stroke-width="0.12">2.4</text>
<text x="508" y="190.5" font-size="6.5" fill="#262626" textLength="35.6" lengthAdjust="spacingAndGlyphs" stroke="#262626" stroke-width="0.12">Zimmer 2 50%</text>
<text x="508" y="198.8" font-size="6.5" fill="#262626" textLength="16.6" lengthAdjust="spacingAndGlyphs" stroke="#262626" stroke-width="0.12">0.44 m</text>
<text x="524.8" y="196.2" font-size="3.6" fill="#262626" textLength="1.9" lengthAdjust="spacingAndGlyphs" stroke="#262626" stroke-width="0.12">2</text>
<text x="508" y="213" font-size="6.5" fill="#262626" textLength="8" lengthAdjust="spacingAndGlyphs" stroke="#262626" stroke-width="0.12">2.3</text>
<text x="508" y="224.3" font-size="6.5" fill="#262626" textLength="35.6" lengthAdjust="spacingAndGlyphs" stroke="#262626" stroke-width="0.12">Zimmer 1 50%</text>
<text x="508" y="232.5" font-size="6.5" fill="#262626" textLength="16.6" lengthAdjust="spacingAndGlyphs" stroke="#262626" stroke-width="0.12">0.39 m</text>
<text x="524.8" y="229.9" font-size="3.6" fill="#262626" textLength="1.9" lengthAdjust="spacingAndGlyphs" stroke="#262626" stroke-width="0.12">2</text>
<text x="510" y="269.8" font-size="6.5" fill="#262626" textLength="8" lengthAdjust="spacingAndGlyphs" stroke="#262626" stroke-width="0.12">2.3</text>
<text x="510" y="279.5" font-size="6.5" fill="#262626" textLength="35.6" lengthAdjust="spacingAndGlyphs" stroke="#262626" stroke-width="0.12">Zimmer 1 50%</text>
<text x="510" y="288.5" font-size="6.5" fill="#262626" textLength="16.6" lengthAdjust="spacingAndGlyphs" stroke="#262626" stroke-width="0.12">0.42 m</text>
<text x="526.8" y="285.9" font-size="3.6" fill="#262626" textLength="1.9" lengthAdjust="spacingAndGlyphs" stroke="#262626" stroke-width="0.12">2</text>
<text x="508" y="304.3" font-size="6.5" fill="#262626" textLength="8" lengthAdjust="spacingAndGlyphs" stroke="#262626" stroke-width="0.12">2.2</text>
<text x="508" y="314" font-size="6.5" fill="#262626" textLength="28.5" lengthAdjust="spacingAndGlyphs" stroke="#262626" stroke-width="0.12">Küche 50%</text>
<text x="508" y="323" font-size="6.5" fill="#262626" textLength="16.6" lengthAdjust="spacingAndGlyphs" stroke="#262626" stroke-width="0.12">0.29 m</text>
<text x="524.8" y="320.4" font-size="3.6" fill="#262626" textLength="1.9" lengthAdjust="spacingAndGlyphs" stroke="#262626" stroke-width="0.12">2</text>
<text x="512" y="340.8" font-size="6.5" fill="#262626" textLength="8" lengthAdjust="spacingAndGlyphs" stroke="#262626" stroke-width="0.12">2.2</text>
<text x="512" y="350.5" font-size="6.5" fill="#262626" textLength="28.5" lengthAdjust="spacingAndGlyphs" stroke="#262626" stroke-width="0.12">Küche 50%</text>
<text x="512" y="359.5" font-size="6.5" fill="#262626" textLength="16.6" lengthAdjust="spacingAndGlyphs" stroke="#262626" stroke-width="0.12">0.24 m</text>
<text x="528.8" y="356.9" font-size="3.6" fill="#262626" textLength="1.9" lengthAdjust="spacingAndGlyphs" stroke="#262626" stroke-width="0.12">2</text>
<text x="514.1" y="378.1" font-size="6.5" fill="#262626" textLength="8" lengthAdjust="spacingAndGlyphs" stroke="#262626" stroke-width="0.12">2.1</text>
<text x="514.1" y="388.4" font-size="6.5" fill="#262626" textLength="45.5" lengthAdjust="spacingAndGlyphs" stroke="#262626" stroke-width="0.12">Wohnzimmer 50 %</text>
<text x="514.1" y="397.6" font-size="6.5" fill="#262626" textLength="16.2" lengthAdjust="spacingAndGlyphs" stroke="#262626" stroke-width="0.12">0.34 m</text>
<text x="530.5" y="395" font-size="3.6" fill="#262626" textLength="1.9" lengthAdjust="spacingAndGlyphs" stroke="#262626" stroke-width="0.12">2</text>
<text x="511.3" y="456.4" font-size="6.5" fill="#262626" textLength="8" lengthAdjust="spacingAndGlyphs" stroke="#262626" stroke-width="0.12">2.1</text>
<text x="511.3" y="466.8" font-size="6.5" fill="#262626" textLength="45.5" lengthAdjust="spacingAndGlyphs" stroke="#262626" stroke-width="0.12">Wohnzimmer 50 %</text>
<text x="511.3" y="476" font-size="6.5" fill="#262626" textLength="16.2" lengthAdjust="spacingAndGlyphs" stroke="#262626" stroke-width="0.12">0.61 m</text>
<text x="527.7" y="473.4" font-size="3.6" fill="#262626" textLength="1.9" lengthAdjust="spacingAndGlyphs" stroke="#262626" stroke-width="0.12">2</text>
<text x="554.9" y="149.7" font-size="6.5" fill="#262626" textLength="8" lengthAdjust="spacingAndGlyphs" stroke="#262626" stroke-width="0.12">2.4</text>
<text x="554.9" y="160.2" font-size="6.5" fill="#262626" textLength="23.9" lengthAdjust="spacingAndGlyphs" stroke="#262626" stroke-width="0.12">Zimmer 2</text>
<text x="554.9" y="169.5" font-size="6.5" fill="#262626" textLength="17.1" lengthAdjust="spacingAndGlyphs" stroke="#262626" stroke-width="0.12">9.19 m</text>
<text x="572.2" y="166.9" font-size="3.6" fill="#262626" textLength="1.9" lengthAdjust="spacingAndGlyphs" stroke="#262626" stroke-width="0.12">2</text>
<text x="554.6" y="236.3" font-size="6.5" fill="#262626" textLength="8" lengthAdjust="spacingAndGlyphs" stroke="#262626" stroke-width="0.12">2.3</text>
<text x="554.6" y="247.5" font-size="6.5" fill="#262626" textLength="23.3" lengthAdjust="spacingAndGlyphs" stroke="#262626" stroke-width="0.12">Zimmer 1</text>
<text x="554.6" y="256.7" font-size="6.5" fill="#262626" textLength="16.1" lengthAdjust="spacingAndGlyphs" stroke="#262626" stroke-width="0.12">7.85 m</text>
<text x="570.9" y="254.1" font-size="3.6" fill="#262626" textLength="1.9" lengthAdjust="spacingAndGlyphs" stroke="#262626" stroke-width="0.12">2</text>
<text x="560.2" y="322.8" font-size="6.5" fill="#262626" textLength="8" lengthAdjust="spacingAndGlyphs" stroke="#262626" stroke-width="0.12">2.2</text>
<text x="560.2" y="333" font-size="6.5" fill="#262626" textLength="15.4" lengthAdjust="spacingAndGlyphs" stroke="#262626" stroke-width="0.12">Küche</text>
<text x="560.2" y="342" font-size="6.5" fill="#262626" textLength="16.4" lengthAdjust="spacingAndGlyphs" stroke="#262626" stroke-width="0.12">6.08 m</text>
<text x="576.8" y="339.4" font-size="3.6" fill="#262626" textLength="1.9" lengthAdjust="spacingAndGlyphs" stroke="#262626" stroke-width="0.12">2</text>
<text x="560.7" y="412.8" font-size="6.5" fill="#262626" textLength="8" lengthAdjust="spacingAndGlyphs" stroke="#262626" stroke-width="0.12">2.1</text>
<text x="560.7" y="423.1" font-size="6.5" fill="#262626" textLength="31.9" lengthAdjust="spacingAndGlyphs" stroke="#262626" stroke-width="0.12">Wohnzimmer</text>
<text x="560.7" y="432.3" font-size="6.5" fill="#262626" textLength="19.4" lengthAdjust="spacingAndGlyphs" stroke="#262626" stroke-width="0.12">15.37 m</text>
<text x="580.3" y="429.7" font-size="3.6" fill="#262626" textLength="1.9" lengthAdjust="spacingAndGlyphs" stroke="#262626" stroke-width="0.12">2</text>
<text x="620.8" y="242.5" font-size="6.5" fill="#262626" textLength="8" lengthAdjust="spacingAndGlyphs" stroke="#262626" stroke-width="0.12">2.9</text>
<text x="620.8" y="252.9" font-size="6.5" fill="#262626" textLength="10.2" lengthAdjust="spacingAndGlyphs" stroke="#262626" stroke-width="0.12">Flur</text>
<text x="620.8" y="261.7" font-size="6.5" fill="#262626" textLength="17" lengthAdjust="spacingAndGlyphs" stroke="#262626" stroke-width="0.12">6.20 m</text>
<text x="638" y="259.1" font-size="3.6" fill="#262626" textLength="1.9" lengthAdjust="spacingAndGlyphs" stroke="#262626" stroke-width="0.12">2</text>
<text x="634.5" y="127.7" font-size="6.5" fill="#262626" textLength="7.1" lengthAdjust="spacingAndGlyphs" stroke="#262626" stroke-width="0.12">2.5</text>
<text x="634.5" y="138" font-size="6.5" fill="#262626" textLength="9.5" lengthAdjust="spacingAndGlyphs" stroke="#262626" stroke-width="0.12">Bad</text>
<text x="634.5" y="147.5" font-size="6.5" fill="#262626" textLength="16.8" lengthAdjust="spacingAndGlyphs" stroke="#262626" stroke-width="0.12">3.82 m</text>
<text x="651.5" y="144.9" font-size="3.6" fill="#262626" textLength="1.9" lengthAdjust="spacingAndGlyphs" stroke="#262626" stroke-width="0.12">2</text>
<text x="658" y="186.3" font-size="6.5" fill="#262626" textLength="8" lengthAdjust="spacingAndGlyphs" stroke="#262626" stroke-width="0.12">2.6</text>
<text x="658" y="198.8" font-size="6.5" fill="#262626" textLength="8.8" lengthAdjust="spacingAndGlyphs" stroke="#262626" stroke-width="0.12">WC</text>
<text x="658" y="207.5" font-size="6.5" fill="#262626" textLength="16.6" lengthAdjust="spacingAndGlyphs" stroke="#262626" stroke-width="0.12">1.49 m</text>
<text x="674.8" y="204.9" font-size="3.6" fill="#262626" textLength="1.9" lengthAdjust="spacingAndGlyphs" stroke="#262626" stroke-width="0.12">2</text>
<text x="654.8" y="244.8" font-size="6.5" fill="#262626" textLength="8" lengthAdjust="spacingAndGlyphs" stroke="#262626" stroke-width="0.12">2.7</text>
<text x="654.8" y="254.8" font-size="6.5" fill="#262626" textLength="28.5" lengthAdjust="spacingAndGlyphs" stroke="#262626" stroke-width="0.12">Abstellraum</text>
<text x="654.8" y="264.3" font-size="6.5" fill="#262626" textLength="16.9" lengthAdjust="spacingAndGlyphs" stroke="#262626" stroke-width="0.12">1.62 m</text>
<text x="671.9" y="261.7" font-size="3.6" fill="#262626" textLength="1.9" lengthAdjust="spacingAndGlyphs" stroke="#262626" stroke-width="0.12">2</text>
<text x="657.9" y="299.6" font-size="6.5" fill="#262626" textLength="7.5" lengthAdjust="spacingAndGlyphs" stroke="#262626" stroke-width="0.12">2.8</text>
<text x="657.9" y="310" font-size="6.5" fill="#262626" textLength="12.1" lengthAdjust="spacingAndGlyphs" stroke="#262626" stroke-width="0.12">Diele</text>
<text x="657.9" y="318.8" font-size="6.5" fill="#262626" textLength="16.8" lengthAdjust="spacingAndGlyphs" stroke="#262626" stroke-width="0.12">2.77 m</text>
<text x="674.9" y="316.2" font-size="3.6" fill="#262626" textLength="1.9" lengthAdjust="spacingAndGlyphs" stroke="#262626" stroke-width="0.12">2</text>
<ellipse cx="634.1" cy="109.3" rx="8.4" ry="6.0" fill="#fff" stroke="#2b2b2b" stroke-width="1.8"/>
<ellipse cx="634.1" cy="110.8" rx="6.3" ry="3.6" fill="#fff" stroke="#2b2b2b" stroke-width="0.9"/>
<line x1="634.1" y1="102.8" x2="634.1" y2="108.6" stroke="#2b2b2b" stroke-width="1"/>
<rect x="654.5" y="103.9" width="28.8" height="28.5" fill="#c9c9c9" stroke="#2b2b2b" stroke-width="1.1"/>
<rect x="655.9" y="105.2" width="26" height="25.9" fill="none" stroke="#777" stroke-width="0.6"/>
<rect x="657.2" y="106.2" width="24.4" height="24.5" rx="3" fill="#fff" stroke="#2b2b2b" stroke-width="1.4"/>
<path d="M657.8 109L662.6 109M660.2 106.6L660.2 111.4M658.5 107.3L661.9 110.7M661.9 107.3L658.5 110.7" stroke="#2b2b2b" stroke-width="0.9" fill="none"/>
<rect x="659.3" y="165.5" width="16.3" height="5.0" rx="0.8" fill="#fff" stroke="#2b2b2b" stroke-width="1.1"/>
<rect x="663.5" y="170.2" width="8" height="2.5" fill="#fff" stroke="#2b2b2b" stroke-width="0.9"/>
<ellipse cx="667.3" cy="180.2" rx="5.9" ry="8.2" fill="#fff" stroke="#2b2b2b" stroke-width="1.5"/>
<circle cx="667.5" cy="180.9" r="4.5" fill="none" stroke="#2b2b2b" stroke-width="1.1"/>
<circle cx="739" cy="19" r="0.9" fill="#888"/>
<circle cx="623.5" cy="51" r="0.6" fill="#666"/>
<text x="412.5" y="572.5" font-size="15.0" fill="#222" stroke="#222" stroke-width="0.3" textLength="170.5" lengthAdjust="spacingAndGlyphs">Dachgeschoss Wohnung</text>
</svg></body></html>
